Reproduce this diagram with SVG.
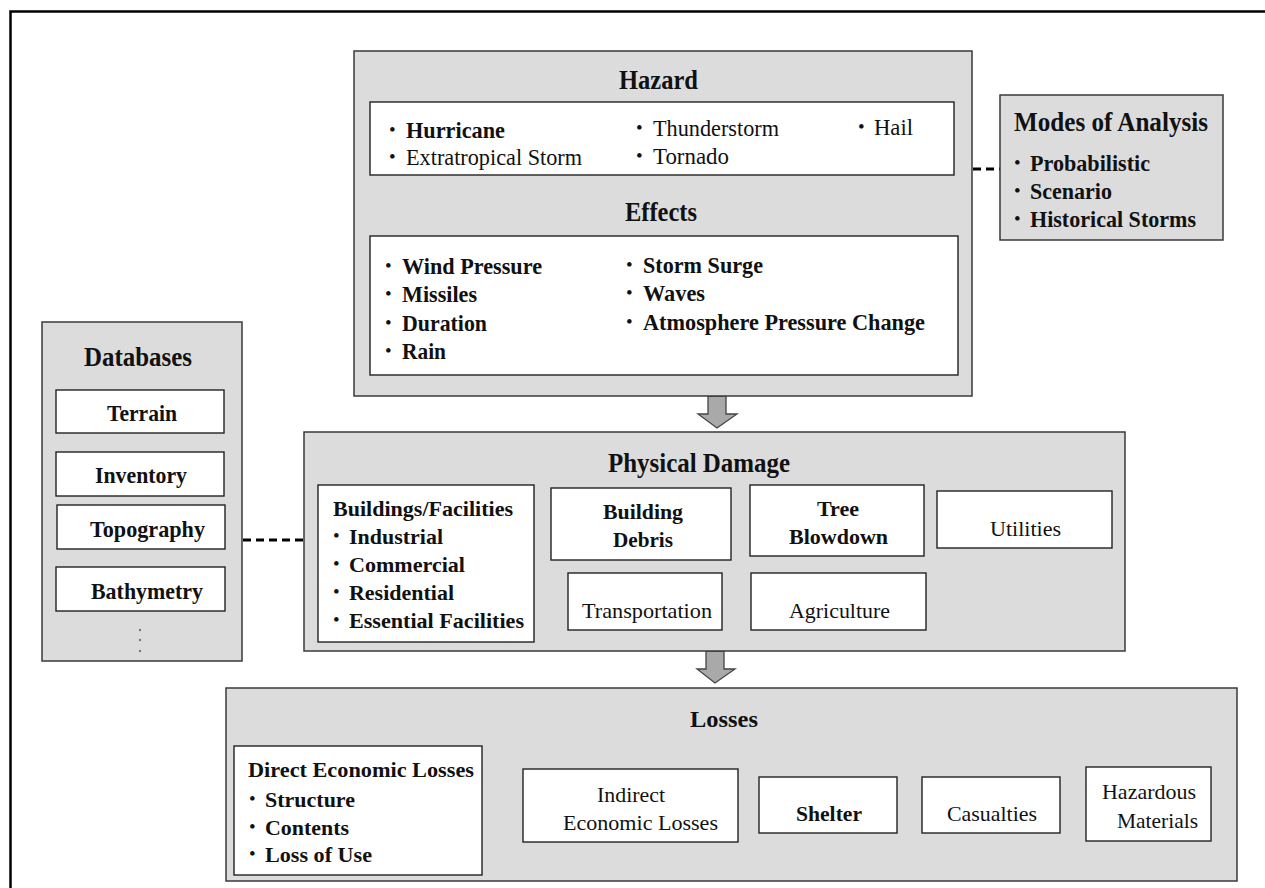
<svg xmlns="http://www.w3.org/2000/svg" width="1265" height="888" viewBox="0 0 1265 888">
  <style>
    text { font-family: "Liberation Serif", "Times New Roman", serif; fill: #111; }
    .title { font-size: 27px; font-weight: bold; }
    .item { font-size: 23px; }
    .sm { font-size: 22px; }
    .dot { font-size: 19px; }
    .bold { font-weight: bold; }
    .panel { fill: #dcdcdc; stroke: #3a3a3a; stroke-width: 1.5; }
    .card { fill: #ffffff; stroke: #222; stroke-width: 1.4; }
    .link { stroke: #000; stroke-width: 3; stroke-dasharray: 8 5; fill: none; }
    .flow { fill: #a9a9a9; stroke: #444; stroke-width: 1.3; }
  </style>

  <!-- page frame -->
  <rect x="10.5" y="11.5" width="1270" height="890" fill="#fff" stroke="#000" stroke-width="2.5"/>

  <!-- connectors -->
  <g id="connectors">
    <line class="link" x1="973" y1="169" x2="1000" y2="169"/>
    <line class="link" x1="243" y1="540" x2="304" y2="540"/>
    <path class="flow" d="M708,396 H726 V414 H737 L717,428 L698,414 H708 Z"/>
    <path class="flow" d="M706,651 H724 V669 H735 L715,683 L697,669 H706 Z"/>
  </g>

  <!-- Hazard / Effects -->
  <g id="hazard">
    <rect class="panel" x="354" y="51" width="618" height="345"/>
    <text class="title" x="619" y="89" textLength="79" lengthAdjust="spacingAndGlyphs">Hazard</text>
    <rect class="card" x="370" y="102" width="584" height="73"/>
    <text class="dot" x="389" y="136">•</text>
    <text class="item bold" x="406" y="138" textLength="99" lengthAdjust="spacingAndGlyphs">Hurricane</text>
    <text class="dot" x="389" y="163">•</text>
    <text class="item" x="406" y="165" textLength="176" lengthAdjust="spacingAndGlyphs">Extratropical Storm</text>
    <text class="dot" x="636" y="134">•</text>
    <text class="item" x="653" y="136" textLength="126" lengthAdjust="spacingAndGlyphs">Thunderstorm</text>
    <text class="dot" x="636" y="162">•</text>
    <text class="item" x="653" y="164" textLength="76" lengthAdjust="spacingAndGlyphs">Tornado</text>
    <text class="dot" x="858" y="133">•</text>
    <text class="item" x="874" y="135" textLength="39" lengthAdjust="spacingAndGlyphs">Hail</text>

    <text class="title" x="625" y="221" textLength="72" lengthAdjust="spacingAndGlyphs">Effects</text>
    <rect class="card" x="370" y="236" width="588" height="139"/>
    <text class="dot" x="385" y="272">•</text>
    <text class="item bold" x="402" y="274" textLength="140" lengthAdjust="spacingAndGlyphs">Wind Pressure</text>
    <text class="dot" x="385" y="300">•</text>
    <text class="item bold" x="402" y="302" textLength="75" lengthAdjust="spacingAndGlyphs">Missiles</text>
    <text class="dot" x="385" y="329">•</text>
    <text class="item bold" x="402" y="331" textLength="85" lengthAdjust="spacingAndGlyphs">Duration</text>
    <text class="dot" x="385" y="357">•</text>
    <text class="item bold" x="402" y="359" textLength="44" lengthAdjust="spacingAndGlyphs">Rain</text>
    <text class="dot" x="626" y="271">•</text>
    <text class="item bold" x="643" y="273" textLength="120" lengthAdjust="spacingAndGlyphs">Storm Surge</text>
    <text class="dot" x="626" y="299">•</text>
    <text class="item bold" x="643" y="301" textLength="62" lengthAdjust="spacingAndGlyphs">Waves</text>
    <text class="dot" x="626" y="328">•</text>
    <text class="item bold" x="643" y="330" textLength="282" lengthAdjust="spacingAndGlyphs">Atmosphere Pressure Change</text>
  </g>

  <!-- Modes of Analysis -->
  <g id="modes">
    <rect class="panel" x="1000" y="95" width="223" height="145"/>
    <text class="title" x="1014" y="131" textLength="194" lengthAdjust="spacingAndGlyphs">Modes of Analysis</text>
    <text class="dot" x="1014" y="169">•</text>
    <text class="item bold" x="1030" y="171" textLength="120" lengthAdjust="spacingAndGlyphs">Probabilistic</text>
    <text class="dot" x="1014" y="197">•</text>
    <text class="item bold" x="1030" y="199" textLength="82" lengthAdjust="spacingAndGlyphs">Scenario</text>
    <text class="dot" x="1014" y="225">•</text>
    <text class="item bold" x="1030" y="227" textLength="166" lengthAdjust="spacingAndGlyphs">Historical Storms</text>
  </g>

  <!-- Databases -->
  <g id="databases">
    <rect class="panel" x="42" y="322" width="200" height="339"/>
    <text class="title" x="84" y="366" textLength="108" lengthAdjust="spacingAndGlyphs">Databases</text>
    <rect class="card" x="56" y="390" width="168" height="43"/>
    <text class="item bold" x="107" y="421" textLength="70" lengthAdjust="spacingAndGlyphs">Terrain</text>
    <rect class="card" x="56" y="452" width="168" height="44"/>
    <text class="item bold" x="95" y="483" textLength="92" lengthAdjust="spacingAndGlyphs">Inventory</text>
    <rect class="card" x="57" y="505" width="168" height="44"/>
    <text class="item bold" x="90" y="537" textLength="115" lengthAdjust="spacingAndGlyphs">Topography</text>
    <rect class="card" x="56" y="567" width="169" height="44"/>
    <text class="item bold" x="91" y="599" textLength="112" lengthAdjust="spacingAndGlyphs">Bathymetry</text>
    <g fill="#777">
      <circle cx="140" cy="630" r="1.2"/>
      <circle cx="140" cy="640" r="1.2"/>
      <circle cx="140" cy="651" r="1.2"/>
    </g>
  </g>

  <!-- Physical Damage -->
  <g id="physical-damage">
    <rect class="panel" x="304" y="432" width="821" height="219"/>
    <text class="title" x="608" y="472" textLength="182" lengthAdjust="spacingAndGlyphs">Physical Damage</text>

    <rect class="card" x="318" y="485" width="216" height="157"/>
    <text class="sm bold" x="333" y="516" textLength="180" lengthAdjust="spacingAndGlyphs">Buildings/Facilities</text>
    <text class="dot" x="333" y="542">•</text>
    <text class="sm bold" x="349" y="544" textLength="94" lengthAdjust="spacingAndGlyphs">Industrial</text>
    <text class="dot" x="333" y="570">•</text>
    <text class="sm bold" x="349" y="572" textLength="116" lengthAdjust="spacingAndGlyphs">Commercial</text>
    <text class="dot" x="333" y="598">•</text>
    <text class="sm bold" x="349" y="600" textLength="105" lengthAdjust="spacingAndGlyphs">Residential</text>
    <text class="dot" x="333" y="626">•</text>
    <text class="sm bold" x="349" y="628" textLength="175" lengthAdjust="spacingAndGlyphs">Essential Facilities</text>

    <rect class="card" x="551" y="488" width="180" height="72"/>
    <text class="sm bold" x="603" y="519" textLength="80" lengthAdjust="spacingAndGlyphs">Building</text>
    <text class="sm bold" x="613" y="547" textLength="60" lengthAdjust="spacingAndGlyphs">Debris</text>

    <rect class="card" x="750" y="485" width="174" height="71"/>
    <text class="sm bold" x="817" y="516" textLength="42" lengthAdjust="spacingAndGlyphs">Tree</text>
    <text class="sm bold" x="789" y="544" textLength="99" lengthAdjust="spacingAndGlyphs">Blowdown</text>

    <rect class="card" x="937" y="491" width="175" height="57"/>
    <text class="sm" x="990" y="536" textLength="71" lengthAdjust="spacingAndGlyphs">Utilities</text>

    <rect class="card" x="568" y="573" width="154" height="57"/>
    <text class="sm" x="582" y="618" textLength="130" lengthAdjust="spacingAndGlyphs">Transportation</text>

    <rect class="card" x="751" y="573" width="175" height="57"/>
    <text class="sm" x="789" y="618" textLength="101" lengthAdjust="spacingAndGlyphs">Agriculture</text>
  </g>

  <!-- Losses -->
  <g id="losses">
    <rect class="panel" x="226" y="688" width="1011" height="193"/>
    <text class="item bold" x="690" y="727" textLength="68" lengthAdjust="spacingAndGlyphs">Losses</text>

    <rect class="card" x="234" y="746" width="248" height="129"/>
    <text class="sm bold" x="248" y="777" textLength="226" lengthAdjust="spacingAndGlyphs">Direct Economic Losses</text>
    <text class="dot" x="249" y="805">•</text>
    <text class="sm bold" x="265" y="807" textLength="90" lengthAdjust="spacingAndGlyphs">Structure</text>
    <text class="dot" x="249" y="833">•</text>
    <text class="sm bold" x="265" y="835" textLength="84" lengthAdjust="spacingAndGlyphs">Contents</text>
    <text class="dot" x="249" y="860">•</text>
    <text class="sm bold" x="265" y="862" textLength="107" lengthAdjust="spacingAndGlyphs">Loss of Use</text>

    <rect class="card" x="523" y="769" width="215" height="73"/>
    <text class="sm" x="597" y="802" textLength="68" lengthAdjust="spacingAndGlyphs">Indirect</text>
    <text class="sm" x="563" y="830" textLength="155" lengthAdjust="spacingAndGlyphs">Economic Losses</text>

    <rect class="card" x="759" y="777" width="138" height="56"/>
    <text class="sm bold" x="796" y="821" textLength="66" lengthAdjust="spacingAndGlyphs">Shelter</text>

    <rect class="card" x="922" y="777" width="138" height="56"/>
    <text class="sm" x="947" y="821" textLength="90" lengthAdjust="spacingAndGlyphs">Casualties</text>

    <rect class="card" x="1086" y="767" width="125" height="74"/>
    <text class="sm" x="1102" y="799" textLength="94" lengthAdjust="spacingAndGlyphs">Hazardous</text>
    <text class="sm" x="1117" y="828" textLength="81" lengthAdjust="spacingAndGlyphs">Materials</text>
  </g>
</svg>
